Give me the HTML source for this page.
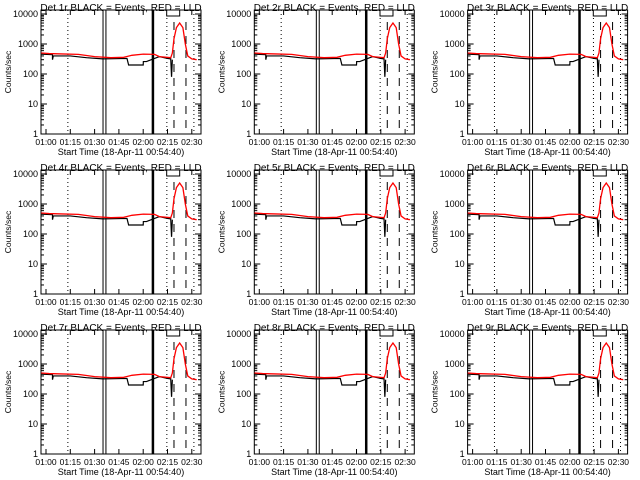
<!DOCTYPE html>
<html><head><meta charset="utf-8"><style>
body{margin:0;background:#fff;}
svg{display:block;font-family:"Liberation Sans",sans-serif;}
</style></head><body>
<svg id="c" width="640" height="480" xmlns="http://www.w3.org/2000/svg"></svg>
<script>
const detNames = ["1r","2r","3r","4r","5r","6r","7r","8r","9r"];
const redTimes = [57,62,67,80,90,100,108,113,120,127,130,137,138,139,140.5,142.5,144.5,146,147.5,150,153];
const redValues = [500,480,470,450,380,350,360,420,460,450,380,350,500,1500,3500,5000,3500,1000,400,320,300];
const blackTimes = [57,64,64,64.5,75,85,95,110,111,120,120.1,122,127,130,135,137,137.5,138];
const blackValues = [460,440,300,400,400,350,320,330,200,200,260,260,330,380,330,320,80,300];
const solidLines = [95.2,97];
const thickLines = [126];
const dottedLines = [73.5,134.6,151.3];
const dashedLines = [139,146.4];
const xTickLabels = ["01:00","01:15","01:30","01:45","02:00","02:15","02:30"];
const xTickTimes = [60,75,90,105,120,135,150];
const yTickLabels = ["1","10","100","1000","10000"];
const yTickValues = [1,10,100,1000,10000];

const NS="http://www.w3.org/2000/svg";
const svg=document.getElementById('c');
function mk(tag,attrs,parent){const e=document.createElementNS(NS,tag);for(const k in attrs)e.setAttribute(k,attrs[k]);(parent||svg).appendChild(e);return e;}

detNames.forEach((nm,i)=>{
  const col=i%3,row=Math.floor(i/3);
  const ox=col*213.3, oy=row*160;
  const L=ox+41,R=ox+201,T=oy+10,B=oy+134;
  const xs=t=>L+5+(t-60)*1.62;
  const ys=v=>B-30*Math.log10(v);
  const g=mk('g',{});
  
  
  const box=mk('rect',{x:L,y:T,width:R-L,height:B-T,fill:'none',stroke:'#000','stroke-width':1},g);
  
  
  // y ticks
  yTickValues.forEach((v,k)=>{
    const y=ys(v);
    mk('line',{x1:L,x2:L+6,y1:y,y2:y,stroke:'#000'},g);
    mk('line',{x1:R,x2:R-6,y1:y,y2:y,stroke:'#000'},g);
    const tx=mk('text',{x:L-3,y:y+3,'font-size':9,'text-anchor':'end'},g);
    tx.textContent=yTickLabels[k];
    
    
    if(k<yTickValues.length-1){for(let m=2;m<10;m++){const yy=ys(v*m);
      mk('line',{x1:L,x2:L+3,y1:yy,y2:yy,stroke:'#000'},g);
      mk('line',{x1:R,x2:R-3,y1:yy,y2:yy,stroke:'#000'},g);}}
  });
  // x ticks
  xTickTimes.forEach((t,k)=>{
    const x=xs(t);
    mk('line',{x1:x,x2:x,y1:B,y2:B-5,stroke:'#000'},g);
    mk('line',{x1:x,x2:x,y1:T,y2:T+5,stroke:'#000'},g);
    const tx=mk('text',{x:x,y:B+11,'font-size':8.5,'text-anchor':'middle'},g);
    tx.textContent=xTickLabels[k];
    
    
  });
  const xt=mk('text',{x:(L+R)/2,y:B+21,'font-size':9,'text-anchor':'middle'},g);
  xt.textContent='Start Time (18-Apr-11 00:54:40)';
  
  
  const yt=mk('text',{x:0,y:0,'font-size':8.5,'text-anchor':'middle',transform:`translate(${ox+11},${(T+B)/2}) rotate(-90)`},g);
  yt.textContent='Counts/sec';
  
  
  const ti=mk('text',{x:(L+R)/2,y:oy+11,'font-size':10,'text-anchor':'middle'},g);
  ti.textContent='Det '+nm+' BLACK = Events, RED = LLD';
  
  
  // vertical markers
  solidLines.forEach(t=>{const l=mk('line',{x1:xs(t),x2:xs(t),y1:T,y2:B,stroke:'#000','stroke-width':1},g);
    });
  thickLines.forEach(t=>{const l=mk('line',{x1:xs(t),x2:xs(t),y1:T,y2:B,stroke:'#000','stroke-width':2.5},g);
    });
  dottedLines.forEach(t=>{const l=mk('line',{x1:xs(t),x2:xs(t),y1:T,y2:B,stroke:'#000','stroke-width':1,'stroke-dasharray':'1 3'},g);
    });
  dashedLines.forEach(t=>{const l=mk('line',{x1:xs(t),x2:xs(t),y1:T+12,y2:B,stroke:'#000','stroke-width':1,'stroke-dasharray':'8 6'},g);
    });
  const bx=mk('rect',{x:xs(134.5),y:T,width:13,height:6,fill:'#fff',stroke:'#000'},g);
  
  
  // series
  const bp=mk('polyline',{points:blackTimes.map((t,k)=>xs(t)+','+ys(blackValues[k])).join(' '),fill:'none',stroke:'#000','stroke-width':1.2},g);
  
  
  const rp=mk('polyline',{points:redTimes.map((t,k)=>xs(t)+','+ys(redValues[k])).join(' '),fill:'none',stroke:'#f00','stroke-width':1.3},g);
  
  
});
</script>
</body></html>
